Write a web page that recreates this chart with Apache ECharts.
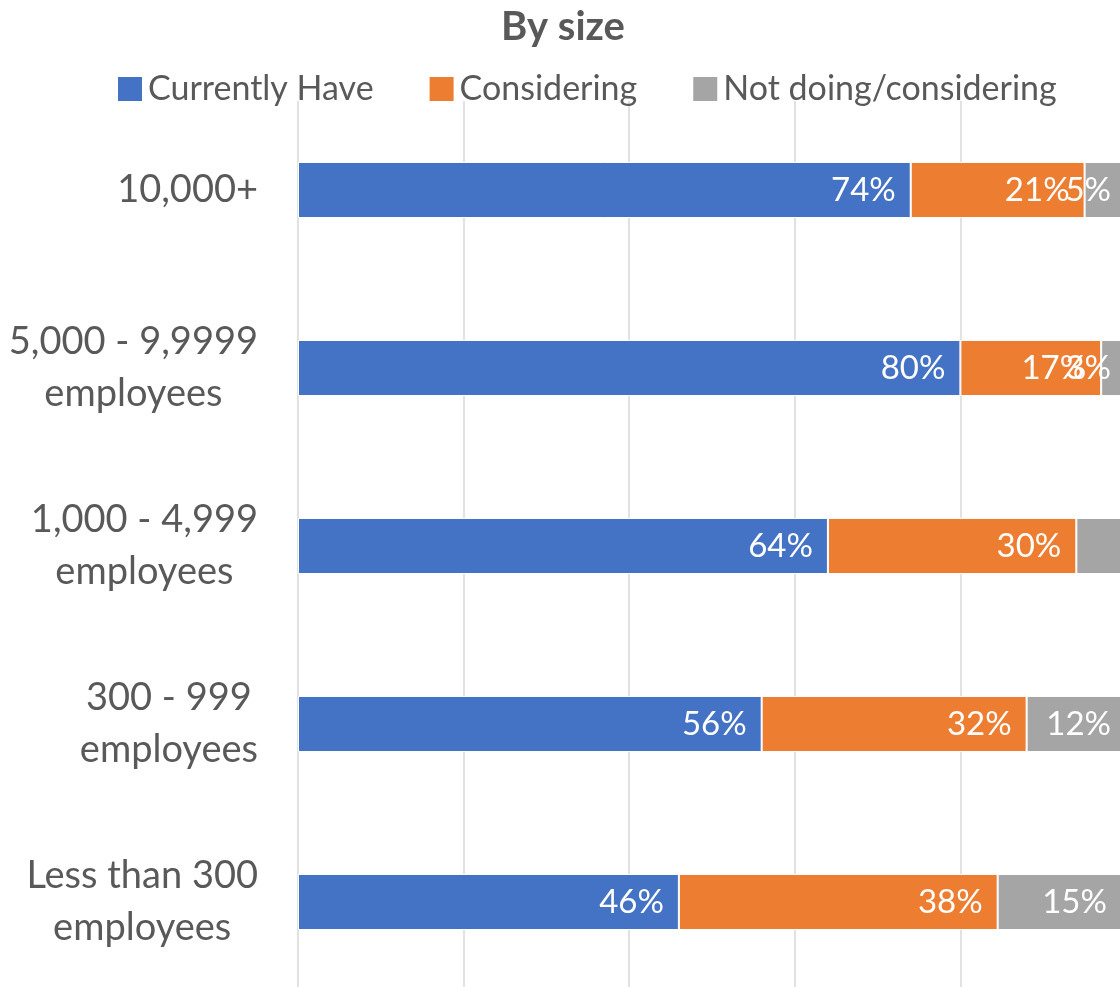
<!DOCTYPE html>
<html>
<head>
<meta charset="utf-8">
<style>
  html, body { margin: 0; padding: 0; background: #fff; overflow: hidden; }
  /* plot runs a little past the right/bottom edge, as in the source */
  #chart { width: 1126px; height: 991px; }
</style>
<script src="https://cdn.jsdelivr.net/npm/echarts@6/dist/echarts.min.js"></script>
</head>
<body>
<div id="chart"></div>
<script>
// categories from bottom to top (category axis on y runs upward)
var categories = ['Less than 300\nemployees', '300 - 999\nemployees', '1,000 - 4,999\nemployees', '5,000 - 9,9999\nemployees', '10,000+'];
var currentlyHave = [46, 56, 64, 80, 74];
var considering = [38.5, 32, 30, 17, 21];
var notDoing = [15, 12, 6, 3, 5];
var hiddenLabels = [false, false, true, false, false];

var font = 'Lato, "Open Sans", sans-serif';

function labelCfg() {
  return {
    show: true,
    position: 'insideRight',
    distance: 15,
    color: '#fff',
    fontSize: 33,
    fontFamily: font,
    formatter: function (p) { return Math.floor(p.value) + '%'; }
  };
}

var chart = echarts.init(document.getElementById('chart'));
chart.setOption({
  animation: false,
  title: {
    text: 'By size',
    left: 'center',
    top: 2,
    textStyle: { fontSize: 40, fontWeight: 'bold', color: '#595959', fontFamily: font }
  },
  legend: {
    top: 72,
    left: 116,
    padding: 0,
    itemWidth: 26,
    itemHeight: 26,
    itemGap: 54,
    icon: 'rect',
    textStyle: { fontSize: 34, color: '#595959', fontFamily: font },
    data: ['Currently Have', 'Considering', 'Not doing/considering']
  },
  grid: { left: 298, right: 0, top: 101, bottom: 0, containLabel: false },
  xAxis: {
    type: 'value',
    min: 0,
    max: 100,
    interval: 20,
    axisLabel: { show: false },
    axisLine: { show: false },
    axisTick: { show: false },
    splitLine: { lineStyle: { color: '#d9d9d9', width: 1.5 } }
  },
  yAxis: {
    type: 'category',
    data: categories,
    axisLine: { show: false },
    axisTick: { show: false },
    axisLabel: {
      margin: 40,
      align: 'right',
      // lines centred on each other, block right-aligned to the axis
      formatter: function (v) {
        return v.split('\n').map(function (l) { return '{c|' + l + '}'; }).join('\n');
      },
      rich: {
        c: { align: 'center', fontSize: 38, color: '#595959', fontFamily: font, lineHeight: 52 }
      }
    }
  },
  series: [
    {
      name: 'Currently Have', type: 'bar', stack: 'a', barWidth: '31.5%',
      itemStyle: { color: '#4472c4', borderColor: '#fff', borderWidth: 1 },
      label: labelCfg(),
      data: currentlyHave
    },
    {
      name: 'Considering', type: 'bar', stack: 'a',
      itemStyle: { color: '#ed7d31', borderColor: '#fff', borderWidth: 1 },
      label: labelCfg(),
      data: considering
    },
    {
      name: 'Not doing/considering', type: 'bar', stack: 'a',
      itemStyle: { color: '#a5a5a5', borderColor: '#fff', borderWidth: 1 },
      label: labelCfg(),
      data: notDoing.map(function (v, i) {
        return hiddenLabels[i] ? { value: v, label: { show: false } } : v;
      })
    }
  ]
});
</script>
</body>
</html>
